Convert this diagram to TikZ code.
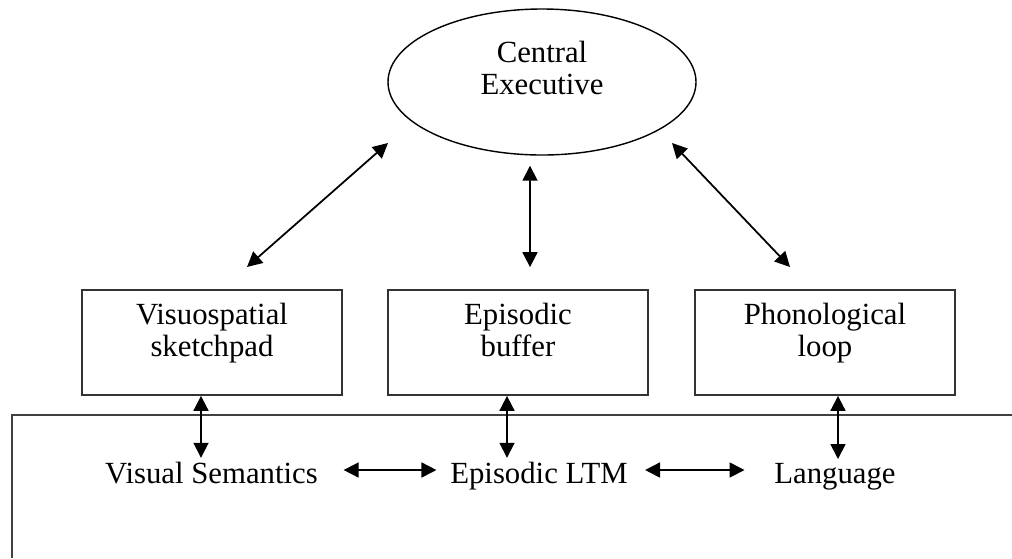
\documentclass[tikz,border=0pt]{standalone}
\usepackage{fontspec}
\setmainfont{Liberation Serif}
\usetikzlibrary{arrows.meta,shapes.geometric}

\begin{document}
\begin{tikzpicture}
	[every node/.style={font=\fontsize{17.5}{18.2}\selectfont, align=center},
	store/.style={draw=black!80, line width=1pt, minimum width=5.2cm,
		minimum height=2.1cm, text depth=0.49cm},
	ltm/.style={anchor=base, inner sep=2pt},
	biarrow/.style={{Triangle[length=0.3cm,width=0.3cm]}-{Triangle[length=0.3cm,width=0.3cm]},
		line width=1pt}]
	\useasboundingbox (0,0) rectangle (20.24,-11.16);
	\node[ellipse, draw, line width=0.8pt, minimum width=6.16cm, minimum height=2.92cm, text depth=0.55cm] (ce) at (10.84,-1.64) {Central\\Executive};
	\node[store] (vs) at (4.24,-6.85) {Visuospatial\\sketchpad};
	\node[store] (eb) at (10.36,-6.85) {Episodic\\buffer};
	\node[store] (pl) at (16.5,-6.85) {Phonological\\loop};
	\node[ltm] (vsem) at (4.23,-9.66) {Visual Semantics};
	\node[ltm] (eltm) at (10.78,-9.66) {Episodic LTM};
	\node[ltm] (lang) at (16.7,-9.66) {Language};
	\coordinate (ce-vs) at (7.76,-2.86);
	\coordinate (vs-ce) at (4.94,-5.34);
	\coordinate (ce-pl) at (13.44,-2.86);
	\coordinate (pl-ce) at (15.8,-5.34);
	\draw[black!75, line width=1pt] (20.24,-8.3) -- (0.24,-8.3) -- (0.24,-11.16);
	\draw[biarrow] (ce-vs) -- (vs-ce);
	\draw[biarrow] (ce-pl) -- (pl-ce);
	\draw[biarrow, shorten <=0.2cm, shorten >=0.44cm] ([xshift=-2.4mm]ce.south) -- ([xshift=2.4mm]eb.north);
	\draw[biarrow] ([xshift=-2.2mm]vs.south) -- ([xshift=-2.1mm]vsem.north);
	\draw[biarrow] ([xshift=-2.2mm]eb.south) -- ([xshift=-6.4mm]eltm.north);
	\draw[biarrow] ([xshift=2.6mm]pl.south) -- ([xshift=0.6mm]lang.north);
	\draw[biarrow] ([shift={(0.44cm,0.26cm)}]vsem.base east) -- ([shift={(-0.2cm,0.26cm)}]eltm.base west);
	\draw[biarrow] ([shift={(0.27cm,0.26cm)}]eltm.base east) -- ([shift={(-0.52cm,0.26cm)}]lang.base west);
\end{tikzpicture}
\end{document}
